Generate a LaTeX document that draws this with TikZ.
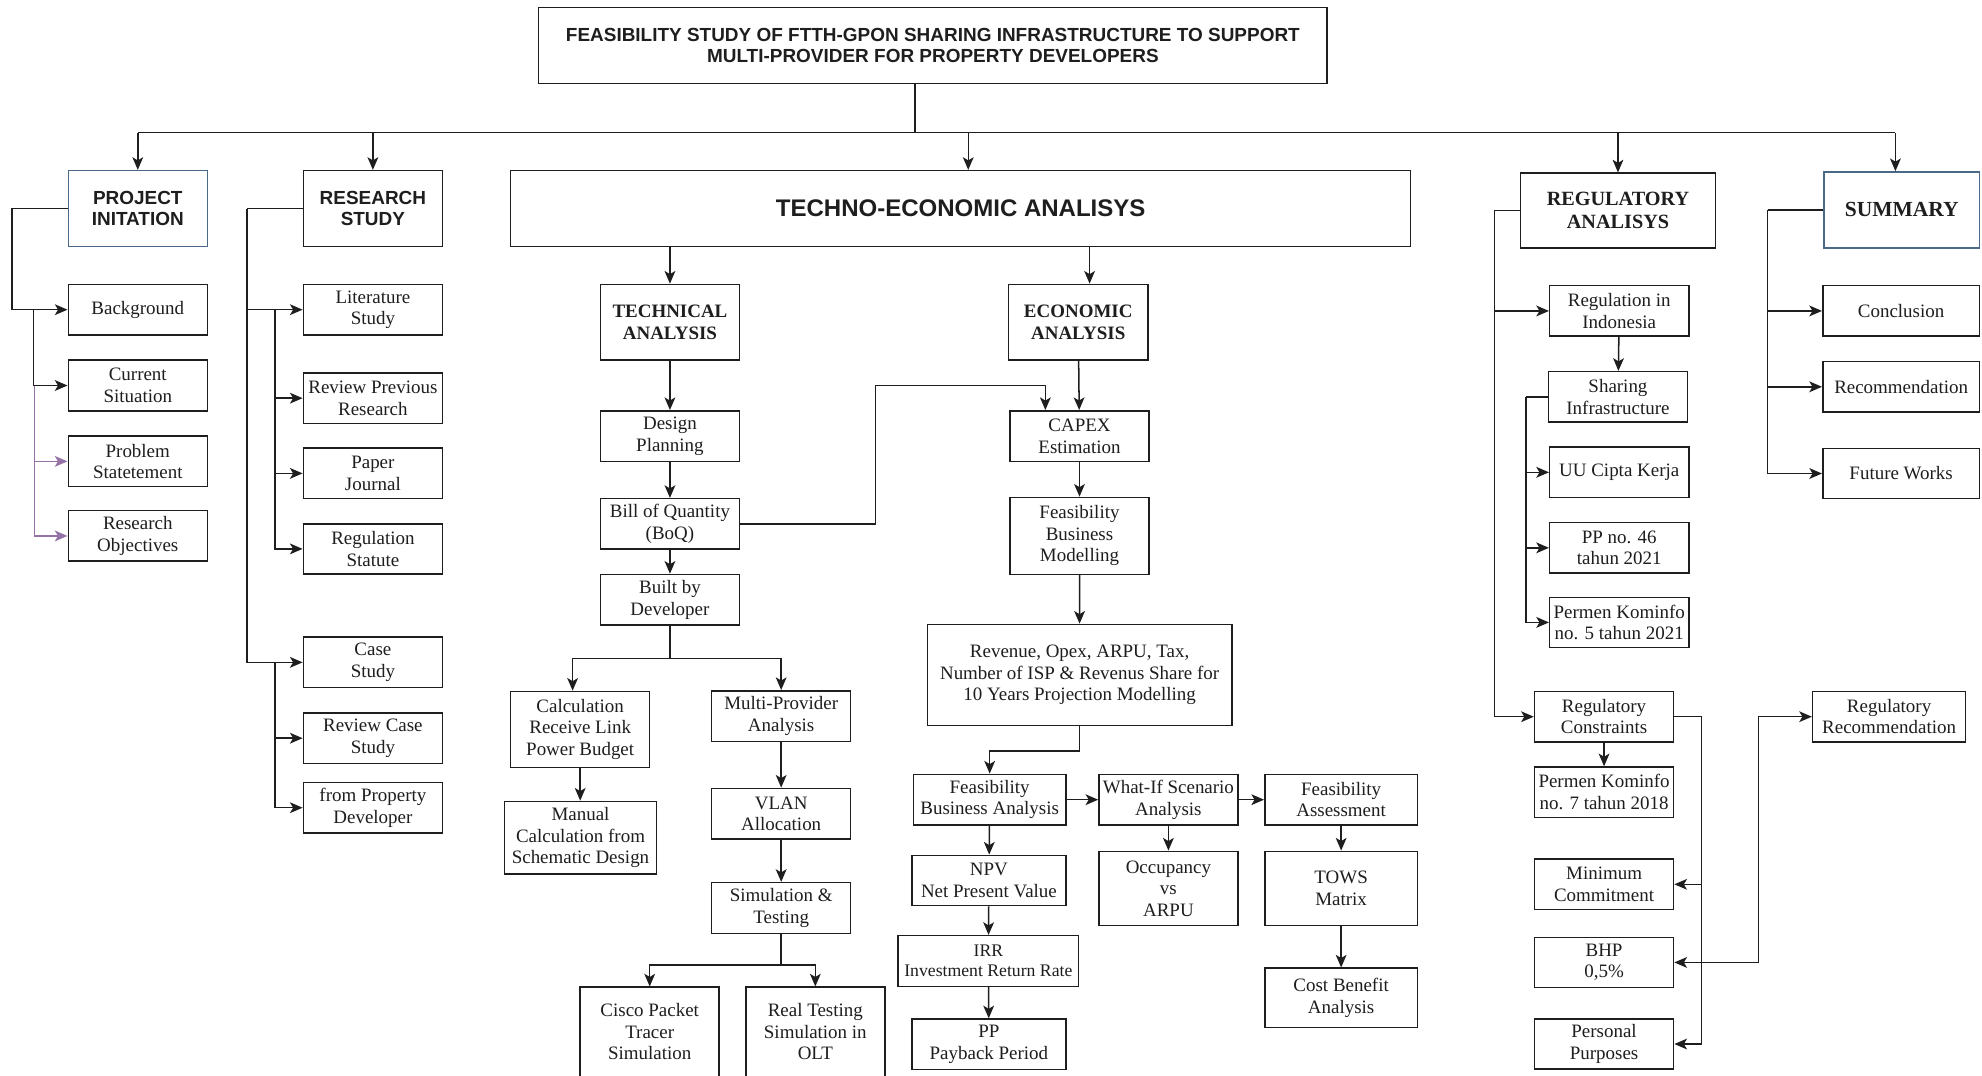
\documentclass[tikz,border=0pt]{standalone}
\usepackage{fontspec}
\setmainfont{Liberation Serif}
\newfontfamily\arialf{Liberation Sans}
\usetikzlibrary{arrows.meta,calc}
\definecolor{bluegrey}{RGB}{74,104,135}
\definecolor{purp}{RGB}{150,115,166}
\definecolor{ink}{RGB}{30,30,30}
\newcommand\mybox[7]{\node[#1, minimum width={(#5)-(#3)}, minimum height={(#6)-(#4)}] (#2) at ({((#3)+(#5))/2},{((#4)+(#6))/2}) {#7};}
\begin{document}
\begin{tikzpicture}[x=1pt,y=-1pt,
  box/.style={draw=ink, line width=1.2pt, fill=white, inner sep=0pt, align=center, text=ink, font={\fontsize{15}{17}\selectfont}},
  sbold/.style={box, font={\arialf\bfseries\fontsize{15}{17}\selectfont}},
  hbold/.style={box, font={\bfseries\fontsize{15}{17}\selectfont}},
  bluebox/.style={draw=bluegrey},
  line/.style={line width=1.2pt, draw=ink},
  arr/.style={line, -{Stealth[length=10pt,width=8.5pt,inset=2.5pt]}},
  parr/.style={line width=1.2pt, draw=purp, -{Stealth[length=10pt,width=8.5pt,inset=2.5pt]}}
]
\useasboundingbox (0,0) rectangle (1568,850.5);
\clip (0,0) rectangle (1568,850.5);

% top level
\mybox{sbold}{title}{426}{6}{1050}{66}{FEASIBILITY STUDY OF FTTH-GPON SHARING INFRASTRUCTURE TO SUPPORT\\MULTI-PROVIDER FOR PROPERTY DEVELOPERS}
\mybox{sbold,bluebox}{pi}{54}{135}{164}{195}{PROJECT\\INITATION}
\mybox{sbold}{rs}{240}{135}{350}{195}{RESEARCH\\STUDY}
\mybox{sbold,font={\arialf\bfseries\fontsize{19}{21}\selectfont}}{tea}{404}{135}{1116}{195}{TECHNO-ECONOMIC ANALISYS}
\mybox{hbold,font={\bfseries\fontsize{16}{18}\selectfont}}{reg}{1203}{137}{1357}{196}{REGULATORY\\ANALISYS}
\mybox{hbold,bluebox,font={\bfseries\fontsize{17}{19}\selectfont}}{sum}{1443}{136}{1566}{196}{SUMMARY}

% project initiation
\mybox{box}{bg}{54}{225}{164}{265}{Background}
\mybox{box}{cs}{54}{285}{164}{325}{Current\\Situation}
\mybox{box}{ps}{54}{345}{164}{385}{Problem\\Statetement}
\mybox{box}{ro}{54}{404}{164}{444}{Research\\Objectives}

% research study
\mybox{box}{lit}{240}{225}{350}{265}{Literature\\Study}
\mybox{box}{rpr}{240}{295}{350}{335}{Review Previous\\Research}
\mybox{box}{pj}{240}{354.5}{350}{394.5}{Paper\\Journal}
\mybox{box}{rst}{240}{414.5}{350}{454}{Regulation\\Statute}
\mybox{box}{case}{240}{504}{350}{544}{Case\\Study}
\mybox{box}{rcs}{240}{564}{350}{604}{Review Case\\Study}
\mybox{box}{fpd}{240}{619}{350}{659}{from Property\\Developer}

% technical
\mybox{hbold}{tech}{475}{225}{585}{285}{TECHNICAL\\ANALYSIS}
\mybox{hbold}{econ}{798}{225}{908}{285}{ECONOMIC\\ANALYSIS}
\mybox{box}{dp}{475}{325}{585}{365}{Design\\Planning}
\mybox{box}{boq}{475}{394.5}{585}{434.5}{Bill of Quantity\\(BoQ)}
\mybox{box}{bbd}{475}{454.5}{585}{494.5}{Built by\\Developer}
\mybox{box}{calc}{404}{547}{514}{607}{Calculation\\Receive Link\\Power Budget}
\mybox{box}{mpa}{563}{546.5}{673}{586.5}{Multi-Provider\\Analysis}
\mybox{box}{man}{399}{634}{519.5}{691.5}{Manual\\Calculation from\\Schematic Design}
\mybox{box}{vlan}{563}{623.7}{673}{663.8}{VLAN\\Allocation}
\mybox{box}{st}{563}{698.3}{673}{738.4}{Simulation \&\\Testing}
\mybox{box}{cisco}{459}{781}{569}{851.5}{Cisco Packet\\Tracer\\Simulation}
\mybox{box}{real}{590}{781}{700}{851.5}{Real Testing\\Simulation in\\OLT}

% economic
\mybox{box}{capex}{799}{325}{909}{365}{CAPEX\\Estimation}
\mybox{box}{fbm}{799}{393.5}{909}{454.4}{Feasibility\\Business\\Modelling}
\mybox{box}{rev}{733.7}{494}{974.5}{574}{Revenue, Opex, ARPU, Tax,\\Number of ISP \& Revenus Share for\\10 Years Projection Modelling}
\mybox{box}{fba}{722.6}{612.6}{843.3}{652.7}{Feasibility\\Business Analysis}
\mybox{box}{wif}{869.4}{612.6}{979.3}{652.7}{What-If Scenario\\Analysis}
\mybox{box}{fa}{1000.6}{612.6}{1121.4}{652.7}{Feasibility\\Assessment}
\mybox{box}{npv}{721.4}{676.7}{843.3}{716.5}{NPV\\Net Present Value}
\mybox{box,font={\fontsize{14}{16}\selectfont}}{irr}{710.6}{740.2}{853.2}{780.3}{IRR\\Investment Return Rate}
\mybox{box}{pp}{721.4}{806.2}{843.3}{846}{PP\\Payback Period}
\mybox{box}{occ}{869.4}{673.5}{979.3}{732.3}{Occupancy\\vs\\ARPU}
\mybox{box}{tows}{1000.6}{673.5}{1121.4}{732.3}{TOWS\\Matrix}
\mybox{box}{cba}{1000.6}{766}{1121.4}{813}{Cost Benefit\\Analysis}

% regulatory
\mybox{box}{rii}{1226}{226}{1336}{266}{Regulation in\\Indonesia}
\mybox{box}{sha}{1225}{294}{1335}{334}{Sharing\\Infrastructure}
\mybox{box}{uu}{1226}{353.6}{1336}{393.7}{UU Cipta Kerja}
\mybox{box}{pp46}{1226}{413.5}{1336}{453.3}{PP no. 46\\tahun 2021}
\mybox{box}{pk5}{1226}{472.5}{1336}{512.3}{Permen Kominfo\\no. 5 tahun 2021}
\mybox{box}{rc}{1214}{547}{1324}{587}{Regulatory\\Constraints}
\mybox{box}{pk7}{1214}{606.8}{1324}{646.6}{Permen Kominfo\\no. 7 tahun 2018}
\mybox{box}{mc}{1214}{679.7}{1324}{719.5}{Minimum\\Commitment}
\mybox{box}{bhp}{1214}{741.5}{1324}{781.3}{BHP\\0,5\%}
\mybox{box}{per}{1214}{806.2}{1324}{845.7}{Personal\\Purposes}
\mybox{box}{rr}{1434}{547}{1555}{587}{Regulatory\\Recommendation}

% summary
\mybox{box}{con}{1442}{226}{1566}{266}{Conclusion}
\mybox{box}{rec}{1442}{286}{1566}{326}{Recommendation}
\mybox{box}{fw}{1442}{354.7}{1566}{394.5}{Future Works}

% ---- connectors ----
\coordinate (bus) at (724,105);
\draw[line] ([xshift=-14pt]title.south) -- (bus);
\draw[line] (bus -| pi.north) -- ([xshift=-5pt]bus -| sum.north);
\draw[arr] (bus -| pi.north) -- (pi.north);
\draw[arr] (bus -| rs.north) -- (rs.north);
\draw[arr] ([xshift=6pt]bus -| tea.north) -- ([xshift=6pt]tea.north);
\draw[arr] (bus -| reg.north) -- (reg.north);
\draw[arr] ([xshift=-5pt]bus -| sum.north) -- ([xshift=-5pt]sum.north);

% project initiation
\draw[arr] (pi.west) -- ++(-44,0) |- (bg.west);
\draw[arr] ($(bg.west)+(-27,0)$) |- (cs.west);
\draw[parr] ($(cs.west)+(-26,0)$) |- (ps.west);
\draw[parr] ($(cs.west)+(-26,0)$) |- (ro.west);

% research study
\draw[line] (rs.west) -- ++(-44,0) coordinate (rsx);
\draw[arr] (rsx) |- (lit.west);
\draw[arr] (rsx) |- (case.west);
\draw[arr] ($(lit.west)+(-22,0)$) |- (rpr.west);
\draw[arr] ($(lit.west)+(-22,0)$) |- (pj.west);
\draw[arr] ($(lit.west)+(-22,0)$) |- (rst.west);
\draw[arr] ($(case.west)+(-22,0)$) |- (rcs.west);
\draw[arr] ($(case.west)+(-22,0)$) |- (fpd.west);

% techno-economic
\draw[arr] (tech.north |- tea.south) -- (tech.north);
\draw[arr] ([xshift=9pt]econ.north |- tea.south) -- ([xshift=9pt]econ.north);
\draw[arr] (tech) -- (dp);
\draw[arr] (dp) -- (boq);
\draw[arr] (boq) -- (bbd);
\draw[arr] (bbd.south) -- ++(0,26) -| ([xshift=-6pt]calc.north);
\draw[arr] (bbd.south) -- ++(0,26) -| (mpa.north);
\draw[arr] (calc) -- (calc |- man.north);
\draw[arr] (mpa) -- (vlan);
\draw[arr] (vlan) -- (st);
\draw[arr] (st.south) -- ++(0,24.6) -| (cisco.north);
\draw[arr] (st.south) -- ++(0,24.6) -| (real.north);
\coordinate (bend) at (692.5,305);
\draw[arr] (boq.east) -| (bend) -| ([xshift=-27pt]capex.north);
\draw[arr] (econ) -- (capex);
\draw[arr] (capex) -- (fbm);
\draw[arr] (fbm) -- (rev);
\draw[arr] (rev.south) -- ++(0,19.4) -| (fba.north);
\draw[arr] (fba) -- (wif);
\draw[arr] (wif) -- (fa);
\draw[arr] (fba) -- (npv);
\draw[arr] (npv) -- (irr);
\draw[arr] (irr) -- (pp);
\draw[arr] (wif) -- (occ);
\draw[arr] (fa) -- (tows);
\draw[arr] (tows) -- (cba);

% regulatory
\draw[line] (reg.west) -- ++(-20,0) coordinate (regx);
\draw[arr] (regx) |- (rii.west);
\draw[arr] (regx) |- (rc.west);
\draw[arr] (rii) -- (sha);
\draw[line] (sha.west) -- ++(-17,0) coordinate (shx);
\draw[arr] (shx) |- (uu.west);
\draw[arr] (shx) |- (pp46.west);
\draw[arr] (shx) |- (pk5.west);
\draw[arr] (rc) -- (pk7);
\draw[line] (rc.east) -- ++(21.5,0) coordinate (rcx);
\draw[arr] (rcx) |- (mc.east);
\draw[arr] (rcx) |- (bhp.east);
\draw[arr] (rcx) |- (per.east);
\coordinate (bj) at (rcx |- bhp.east);
\draw[arr] (bj) -- ++(45,0) |- (rr.west);

% summary
\draw[line] (sum.west) -- ++(-44,0) coordinate (smx);
\draw[arr] (smx) |- (con.west);
\draw[arr] (smx) |- (rec.west);
\draw[arr] (smx) |- (fw.west);
\end{tikzpicture}
\end{document}
